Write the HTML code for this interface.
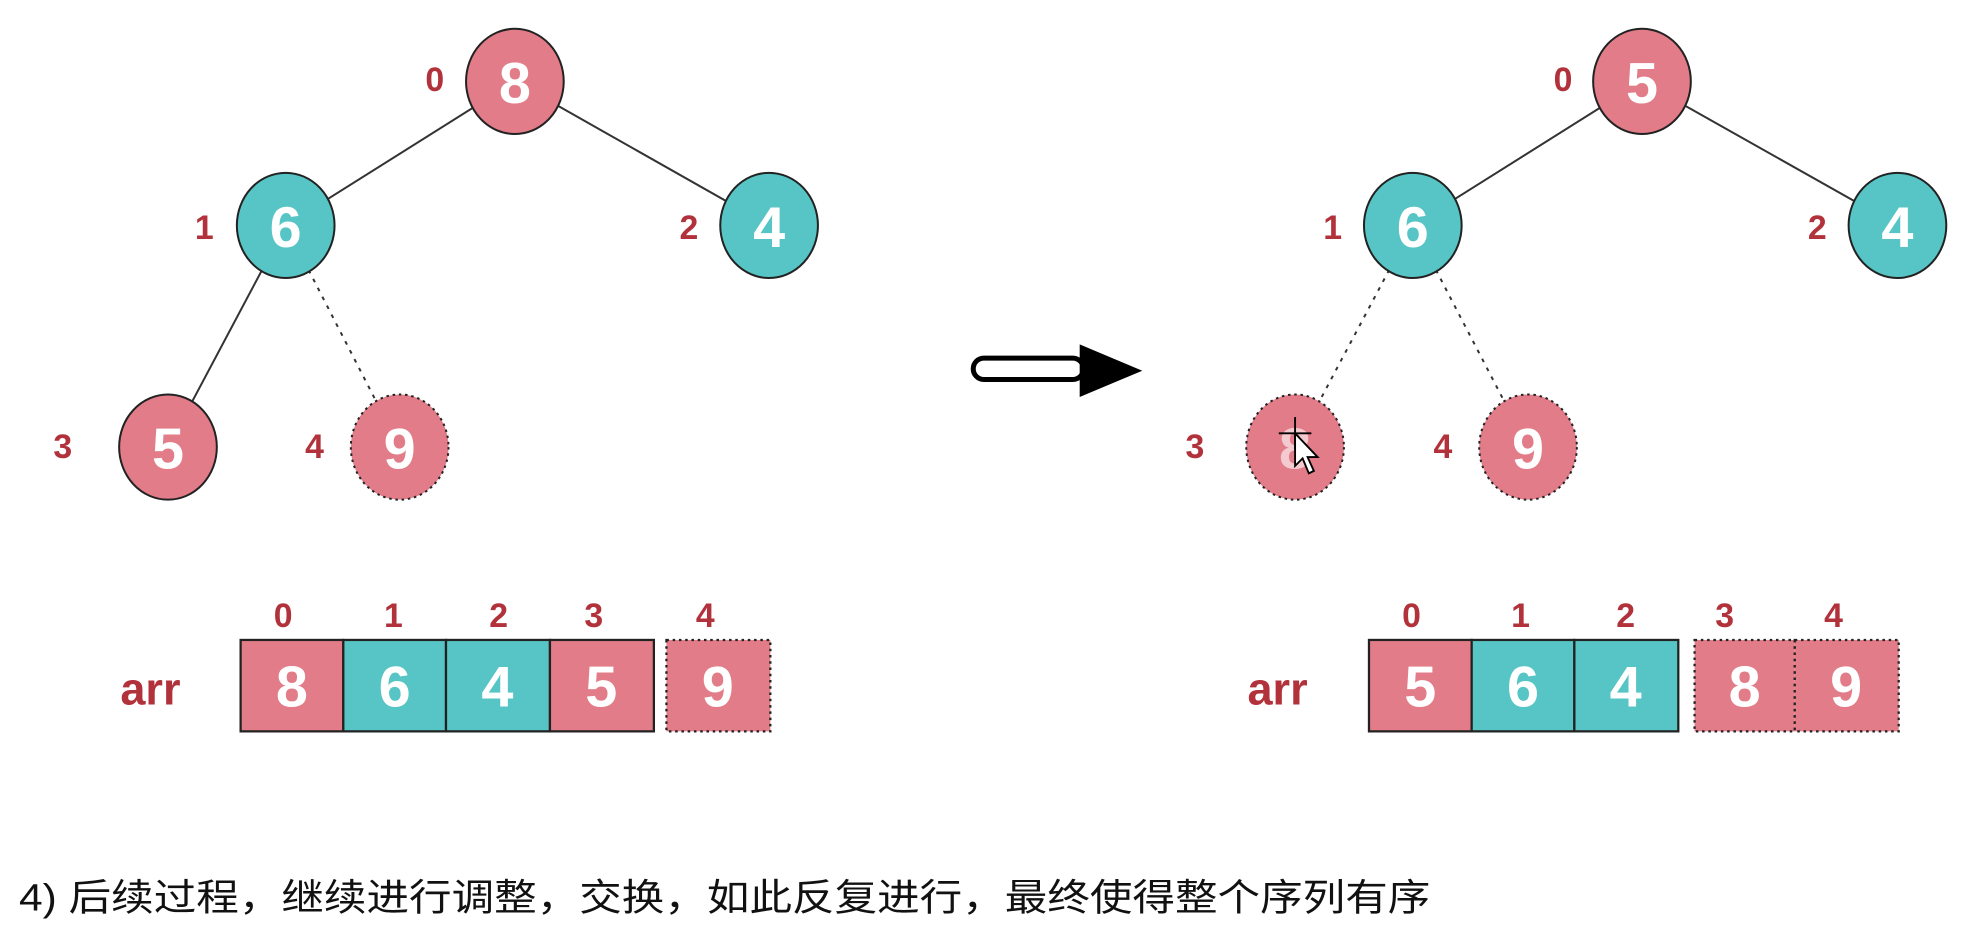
<!DOCTYPE html>
<html><head><meta charset="utf-8"><style>
html,body{margin:0;padding:0;background:#fff;width:1964px;height:938px;overflow:hidden}
svg{display:block}
.lbl{font-family:"Liberation Sans",sans-serif;font-weight:bold;fill:#b2323c;font-size:27px;text-anchor:middle;dominant-baseline:central}
.num{font-family:"Liberation Sans",sans-serif;font-weight:bold;fill:#fff;font-size:46px;text-anchor:middle;dominant-baseline:central}
.arr{font-family:"Liberation Sans",sans-serif;font-weight:bold;fill:#b2323c;font-size:36px;text-anchor:middle;dominant-baseline:central}
</style></head><body>
<svg width="1964" height="938" viewBox="0 0 1568 749" xmlns="http://www.w3.org/2000/svg">
<g stroke="#333" stroke-width="1.6">
<line x1="411" y1="65" x2="228" y2="180"/>
<line x1="411" y1="65" x2="614" y2="180"/>
<line x1="228" y1="180" x2="134" y2="357"/>
<line x1="228" y1="180" x2="319" y2="357" stroke-dasharray="3,5"/>
<line x1="1311" y1="65" x2="1128" y2="180"/>
<line x1="1311" y1="65" x2="1515" y2="180"/>
<line x1="1128" y1="180" x2="1034" y2="357" stroke-dasharray="3,5"/>
<line x1="1128" y1="180" x2="1220" y2="357" stroke-dasharray="3,5"/>
</g>
<g stroke="#222" stroke-width="1.6">
<ellipse cx="411" cy="65" rx="39" ry="42" fill="#e27c88"/>
<ellipse cx="228" cy="180" rx="39" ry="42" fill="#57c5c5"/>
<ellipse cx="614" cy="180" rx="39" ry="42" fill="#57c5c5"/>
<ellipse cx="134" cy="357" rx="39" ry="42" fill="#e27c88"/>
<ellipse cx="319" cy="357" rx="39" ry="42" fill="#e27c88" stroke-dasharray="2,3"/>
<ellipse cx="1311" cy="65" rx="39" ry="42" fill="#e27c88"/>
<ellipse cx="1128" cy="180" rx="39" ry="42" fill="#57c5c5"/>
<ellipse cx="1515" cy="180" rx="39" ry="42" fill="#57c5c5"/>
<ellipse cx="1034" cy="357" rx="39" ry="42" fill="#e27c88" stroke-dasharray="2,3"/>
<ellipse cx="1220" cy="357" rx="39" ry="42" fill="#e27c88" stroke-dasharray="2,3"/>
</g>
<text class="num" x="411" y="67">8</text>
<text class="num" x="228" y="182">6</text>
<text class="num" x="614" y="182">4</text>
<text class="num" x="134" y="359">5</text>
<text class="num" x="319" y="359">9</text>
<text class="num" x="1311" y="67">5</text>
<text class="num" x="1128" y="182">6</text>
<text class="num" x="1515" y="182">4</text>
<text class="num" x="1034" y="359" opacity="0.6">8</text>
<text class="num" x="1220" y="359">9</text>
<text class="lbl" x="347" y="64">0</text>
<text class="lbl" x="163" y="182">1</text>
<text class="lbl" x="550" y="182">2</text>
<text class="lbl" x="50" y="357">3</text>
<text class="lbl" x="251" y="357">4</text>
<text class="lbl" x="1248" y="64">0</text>
<text class="lbl" x="1064" y="182">1</text>
<text class="lbl" x="1451" y="182">2</text>
<text class="lbl" x="954" y="357">3</text>
<text class="lbl" x="1152" y="357">4</text>
<g stroke="#000" stroke-width="1.5" fill="#000">
<line x1="1021" y1="346" x2="1047" y2="346"/>
<line x1="1034" y1="333" x2="1034" y2="359"/>
<path d="M1034 346 L1034 372 L1040 366 L1045 378 L1049 376 L1044 365 L1052 365 Z" fill="#fff"/>
</g>
<rect x="777" y="286" width="88" height="17" rx="8.5" fill="#fff" stroke="#000" stroke-width="4"/>
<polygon points="862,275 912,296 862,317" fill="#000"/>
<text class="lbl" x="226" y="492">0</text><text class="lbl" x="314" y="492">1</text><text class="lbl" x="398" y="492">2</text><text class="lbl" x="474" y="492">3</text><text class="lbl" x="563" y="492">4</text>
<text class="lbl" x="1127" y="492">0</text><text class="lbl" x="1214" y="492">1</text><text class="lbl" x="1298" y="492">2</text><text class="lbl" x="1377" y="492">3</text><text class="lbl" x="1464" y="492">4</text>
<text class="arr" x="120" y="550">arr</text>
<text class="arr" x="1020" y="550">arr</text>
<g stroke="#222" stroke-width="1.8">
<rect x="192" y="511" width="82" height="73" fill="#e27c88"/>
<rect x="274" y="511" width="82" height="73" fill="#57c5c5"/>
<rect x="356" y="511" width="83" height="73" fill="#57c5c5"/>
<rect x="439" y="511" width="83" height="73" fill="#e27c88"/>
<rect x="532" y="511" width="83" height="73" fill="#e27c88" stroke-dasharray="2,3"/>
<rect x="1093" y="511" width="82" height="73" fill="#e27c88"/>
<rect x="1175" y="511" width="82" height="73" fill="#57c5c5"/>
<rect x="1257" y="511" width="83" height="73" fill="#57c5c5"/>
<rect x="1353" y="511" width="80" height="73" fill="#e27c88" stroke-dasharray="2,3"/>
<rect x="1433" y="511" width="83" height="73" fill="#e27c88" stroke-dasharray="2,3"/>
</g>
<text class="num" x="233" y="549">8</text><text class="num" x="315" y="549">6</text><text class="num" x="397" y="549">4</text><text class="num" x="480" y="549">5</text><text class="num" x="573" y="549">9</text>
<text class="num" x="1134" y="549">5</text><text class="num" x="1216" y="549">6</text><text class="num" x="1298" y="549">4</text><text class="num" x="1393" y="549">8</text><text class="num" x="1474" y="549">9</text>
<text x="15" y="727" textLength="1127" lengthAdjust="spacingAndGlyphs" style="font-family:'Liberation Sans','Noto Sans CJK SC',sans-serif;font-size:30px;fill:#111">4) 后续过程，继续进行调整，交换，如此反复进行，最终使得整个序列有序</text>
</svg>
</body></html>
